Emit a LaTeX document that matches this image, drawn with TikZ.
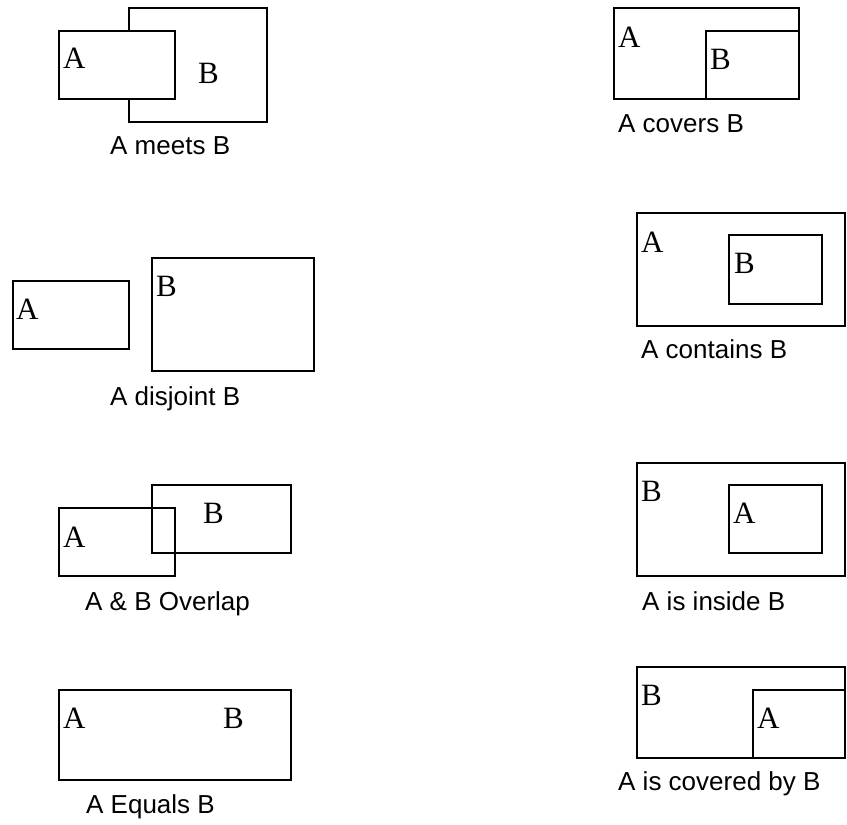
\documentclass[tikz,border=0pt]{standalone}
\usepackage{fontspec}
\newfontfamily\serifL{Liberation Serif}
\newfontfamily\sansL{Liberation Sans}
\begin{document}
\begin{tikzpicture}[x=1pt,y=-1pt,
  box/.style={draw=black,line width=1.7pt,rectangle,inner sep=0pt,anchor=north west},
  wbox/.style={box,fill=white},
  lbl/.style={inner sep=0pt,anchor=base west,font=\serifL\fontsize{31}{31}\selectfont},
  captxt/.style={inner sep=0pt,anchor=base west,font=\sansL\fontsize{26}{26}\selectfont}]
\useasboundingbox[fill=white] (0,0) rectangle (847,825);
% A meets B
\node[box,minimum width=138pt,minimum height=114pt] (mB) at (128,7) {};
\node[wbox,minimum width=116pt,minimum height=68pt] (mA) at (58,30) {};
\node[lbl] (mAl) at (63,68) {A};
\node[lbl] (mBl) at (198,83) {B};
\node[captxt] (mc) at (110,154) {A meets B};
% A covers B
\node[box,minimum width=185pt,minimum height=91pt] (cA) at (613,7) {};
\node[box,minimum width=93pt,minimum height=68pt] (cB) at (705,30) {};
\node[lbl] (cAl) at (618,47) {A};
\node[lbl] (cBl) at (710,69) {B};
\node[captxt] (cc) at (618,132) {A covers B};
% A disjoint B
\node[box,minimum width=116pt,minimum height=68pt] (dA) at (12,280) {};
\node[box,minimum width=162pt,minimum height=113pt] (dB) at (151,257) {};
\node[lbl] (dAl) at (16,319) {A};
\node[lbl] (dBl) at (156,296) {B};
\node[captxt] (dc) at (110,405) {A disjoint B};
% A contains B
\node[box,minimum width=208pt,minimum height=113pt] (tA) at (636,212) {};
\node[box,minimum width=93pt,minimum height=69pt] (tB) at (728,234) {};
\node[lbl] (tAl) at (641,252) {A};
\node[lbl] (tBl) at (734,273) {B};
\node[captxt] (tc) at (641,358) {A contains B};
% A & B Overlap
\node[box,minimum width=116pt,minimum height=68pt] (oA) at (58,507) {};
\node[box,minimum width=139pt,minimum height=68pt] (oB) at (151,484) {};
\node[lbl] (oAl) at (63,547) {A};
\node[lbl] (oBl) at (203,523) {B};
\node[captxt] (oc) at (85,610) {A \& B Overlap};
% A is inside B
\node[box,minimum width=208pt,minimum height=113pt] (iB) at (636,462) {};
\node[box,minimum width=93pt,minimum height=68pt] (iA) at (728,484) {};
\node[lbl] (iBl) at (641,501) {B};
\node[lbl] (iAl) at (733,523) {A};
\node[captxt] (ic) at (642,610) {A is inside B};
% A Equals B
\node[box,minimum width=232pt,minimum height=90pt] (eAB) at (58,689) {};
\node[lbl] (eAl) at (63,728) {A};
\node[lbl] (eBl) at (223,728) {B};
\node[captxt] (ec) at (86,813) {A Equals B};
% A is covered by B
\node[box,minimum width=208pt,minimum height=91pt] (vB) at (636,666) {};
\node[box,minimum width=92pt,minimum height=68pt] (vA) at (752,689) {};
\node[lbl] (vBl) at (641,705) {B};
\node[lbl] (vAl) at (757,728) {A};
\node[captxt] (vc) at (618,790) {A is covered by B};
\end{tikzpicture}
\end{document}
